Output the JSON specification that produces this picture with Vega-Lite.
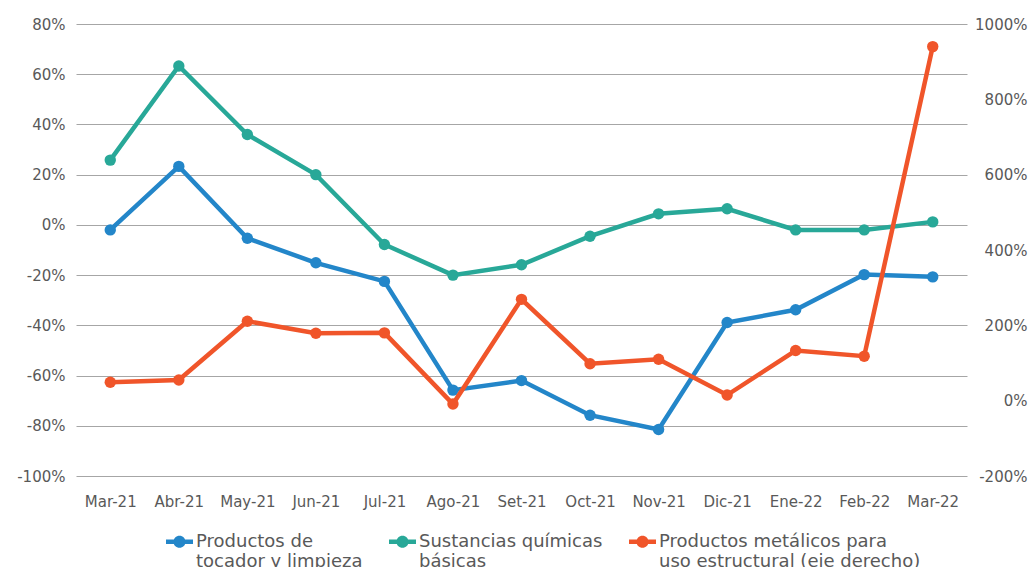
{
  "$schema": "https://vega.github.io/schema/vega-lite/v6.json",
  "width": 891,
  "height": 452,
  "autosize": "none",
  "padding": {"left": 76, "top": 24, "right": 65, "bottom": 91},
  "background": "white",
  "config": {
    "font": "DejaVu Sans",
    "view": {"stroke": null},
    "axis": {"labelFont": "DejaVu Sans", "labelColor": "#595959", "labelFontSize": 15}
  },
  "data": {
    "values": [
      {"mes": "Mar-21", "serie": "Productos de tocador y limpieza", "valor": -2},
      {"mes": "Abr-21", "serie": "Productos de tocador y limpieza", "valor": 23.3},
      {"mes": "May-21", "serie": "Productos de tocador y limpieza", "valor": -5.3},
      {"mes": "Jun-21", "serie": "Productos de tocador y limpieza", "valor": -15.1},
      {"mes": "Jul-21", "serie": "Productos de tocador y limpieza", "valor": -22.5},
      {"mes": "Ago-21", "serie": "Productos de tocador y limpieza", "valor": -65.8},
      {"mes": "Set-21", "serie": "Productos de tocador y limpieza", "valor": -62},
      {"mes": "Oct-21", "serie": "Productos de tocador y limpieza", "valor": -75.8},
      {"mes": "Nov-21", "serie": "Productos de tocador y limpieza", "valor": -81.5},
      {"mes": "Dic-21", "serie": "Productos de tocador y limpieza", "valor": -38.9},
      {"mes": "Ene-22", "serie": "Productos de tocador y limpieza", "valor": -33.8},
      {"mes": "Feb-22", "serie": "Productos de tocador y limpieza", "valor": -19.8},
      {"mes": "Mar-22", "serie": "Productos de tocador y limpieza", "valor": -20.7},
      {"mes": "Mar-21", "serie": "Sustancias químicas básicas", "valor": 25.8},
      {"mes": "Abr-21", "serie": "Sustancias químicas básicas", "valor": 63.3},
      {"mes": "May-21", "serie": "Sustancias químicas básicas", "valor": 36},
      {"mes": "Jun-21", "serie": "Sustancias químicas básicas", "valor": 20},
      {"mes": "Jul-21", "serie": "Sustancias químicas básicas", "valor": -7.8},
      {"mes": "Ago-21", "serie": "Sustancias químicas básicas", "valor": -20},
      {"mes": "Set-21", "serie": "Sustancias químicas básicas", "valor": -15.9},
      {"mes": "Oct-21", "serie": "Sustancias químicas básicas", "valor": -4.5},
      {"mes": "Nov-21", "serie": "Sustancias químicas básicas", "valor": 4.4},
      {"mes": "Dic-21", "serie": "Sustancias químicas básicas", "valor": 6.4},
      {"mes": "Ene-22", "serie": "Sustancias químicas básicas", "valor": -2},
      {"mes": "Feb-22", "serie": "Sustancias químicas básicas", "valor": -2},
      {"mes": "Mar-22", "serie": "Sustancias químicas básicas", "valor": 1.2},
      {"mes": "Mar-21", "serie": "Productos metálicos para uso estructural (eje derecho)", "valor": 49},
      {"mes": "Abr-21", "serie": "Productos metálicos para uso estructural (eje derecho)", "valor": 55},
      {"mes": "May-21", "serie": "Productos metálicos para uso estructural (eje derecho)", "valor": 211},
      {"mes": "Jun-21", "serie": "Productos metálicos para uso estructural (eje derecho)", "valor": 179},
      {"mes": "Jul-21", "serie": "Productos metálicos para uso estructural (eje derecho)", "valor": 180},
      {"mes": "Ago-21", "serie": "Productos metálicos para uso estructural (eje derecho)", "valor": -9},
      {"mes": "Set-21", "serie": "Productos metálicos para uso estructural (eje derecho)", "valor": 269},
      {"mes": "Oct-21", "serie": "Productos metálicos para uso estructural (eje derecho)", "valor": 98},
      {"mes": "Nov-21", "serie": "Productos metálicos para uso estructural (eje derecho)", "valor": 110},
      {"mes": "Dic-21", "serie": "Productos metálicos para uso estructural (eje derecho)", "valor": 15},
      {"mes": "Ene-22", "serie": "Productos metálicos para uso estructural (eje derecho)", "valor": 133},
      {"mes": "Feb-22", "serie": "Productos metálicos para uso estructural (eje derecho)", "valor": 118},
      {"mes": "Mar-22", "serie": "Productos metálicos para uso estructural (eje derecho)", "valor": 940}
    ]
  },
  "encoding": {
    "x": {
      "field": "mes",
      "type": "ordinal",
      "sort": ["Mar-21", "Abr-21", "May-21", "Jun-21", "Jul-21", "Ago-21", "Set-21", "Oct-21", "Nov-21", "Dic-21", "Ene-22", "Feb-22", "Mar-22"],
      "scale": {"type": "point", "padding": 0.5},
      "axis": {"title": null, "labelAngle": 0, "ticks": false, "tickSize": 0, "domain": false, "grid": false, "labelPadding": 18, "labelOverlap": false}
    },
    "color": {
      "field": "serie",
      "type": "nominal",
      "scale": {
        "domain": ["Productos de tocador y limpieza", "Sustancias químicas básicas", "Productos metálicos para uso estructural (eje derecho)"],
        "range": ["#2386c9", "#28a898", "#f0552a"]
      },
      "legend": {
        "title": null,
        "orient": "none",
        "legendX": 90,
        "legendY": 504,
        "direction": "horizontal",
        "padding": 0,
        "symbolType": "M-1,-0.17L1,-0.17L1,0.17L-1,0.17Z M0.45,0A0.45,0.45,0,1,1,-0.45,0A0.45,0.45,0,1,1,0.45,0Z",
        "symbolSize": 729,
        "symbolStrokeWidth": 0,
        "labelFont": "DejaVu Sans",
        "labelFontSize": 18,
        "labelColor": "#595959",
        "labelLineHeight": 19,
        "labelBaseline": "top",
        "labelOffset": 3,
        "labelLimit": 400,
        "columnPadding": 26,
        "labelExpr": "datum.label == 'Productos de tocador y limpieza' ? ['Productos de', 'tocador y limpieza'] : datum.label == 'Sustancias químicas básicas' ? ['Sustancias químicas', 'básicas'] : ['Productos metálicos para', 'uso estructural (eje derecho)']",
        "encode": {
          "symbols": {"update": {"fill": {"scale": "color", "field": "value"}, "stroke": {"value": "transparent"}}},
          "labels": {"update": {"dy": {"value": -9}}}
        }
      }
    }
  },
  "layer": [
    {
      "transform": [{"filter": "datum.serie != 'Productos metálicos para uso estructural (eje derecho)'"}],
      "mark": {"type": "line", "strokeWidth": 4.5, "point": {"size": 130, "filled": true, "opacity": 1}},
      "encoding": {
        "y": {
          "field": "valor",
          "type": "quantitative",
          "scale": {"domain": [-100, 80], "nice": false, "zero": false},
          "axis": {
            "orient": "left",
            "title": null,
            "values": [-100, -80, -60, -40, -20, 0, 20, 40, 60, 80],
            "labelExpr": "datum.value + '%'",
            "ticks": false,
            "tickSize": 0,
            "domain": false,
            "grid": true,
            "gridColor": "#a6a6a6",
            "gridWidth": 1,
            "labelPadding": 11
          }
        }
      }
    },
    {
      "transform": [{"filter": "datum.serie == 'Productos metálicos para uso estructural (eje derecho)'"}],
      "mark": {"type": "line", "strokeWidth": 4.5, "point": {"size": 130, "filled": true, "opacity": 1}},
      "encoding": {
        "y": {
          "field": "valor",
          "type": "quantitative",
          "scale": {"domain": [-200, 1000], "nice": false, "zero": false},
          "axis": {
            "orient": "right",
            "title": null,
            "values": [-200, 0, 200, 400, 600, 800, 1000],
            "labelExpr": "datum.value + '%'",
            "ticks": false,
            "tickSize": 0,
            "domain": false,
            "grid": false,
            "labelAlign": "right",
            "labelPadding": 60
          }
        }
      }
    }
  ],
  "resolve": {"scale": {"y": "independent"}}
}
